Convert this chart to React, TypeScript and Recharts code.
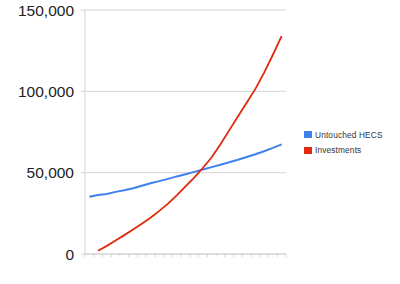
import React from 'react';
import { LineChart, Line, XAxis, YAxis, CartesianGrid } from 'recharts';

const years = [1, 2, 3, 4, 5, 6, 7, 8, 9, 10, 11, 12, 13, 14, 15, 16, 17, 18, 19, 20, 21, 22, 23];
const untouchedHecs = [35200, 36300, 36900, 38200, 39200, 40400, 42000, 43500, 44800, 46200, 47700, 49000, 50500, 51900, 53400, 54900, 56400, 57900, 59600, 61300, 63200, 65200, 67400];
const investments = [null, 2000, 5000, 8300, 11600, 15000, 18600, 22300, 26500, 31000, 36000, 41500, 47000, 53000, 59500, 67500, 76000, 84500, 93000, 101500, 111500, 122500, 134000];
const yTicks = [0, 50000, 100000, 150000];
const xBoundaries = [0.5, 1.5, 2.5, 3.5, 4.5, 5.5, 6.5, 7.5, 8.5, 9.5, 10.5, 11.5, 12.5, 13.5, 14.5, 15.5, 16.5, 17.5, 18.5, 19.5, 20.5, 21.5, 22.5, 23.5];
const seriesNames = ['Untouched HECS', 'Investments'];
const seriesColors = ['#3F80F0', '#DF2A0C'];

const data = years.map((y, i) => ({
  year: y,
  hecs: untouchedHecs[i],
  inv: investments[i],
}));

const FONT = '"Liberation Sans", Arial, sans-serif';
const GRID = '#d4d4d4';

export default function App() {
  return (
    <div style={{ position: 'absolute', left: 0, top: 0, width: 400, height: 284, background: '#fff' }}>
      <LineChart width={400} height={284} data={data} margin={{ top: 10, right: 114, bottom: 0, left: 0 }}>
        <CartesianGrid vertical={false} stroke={GRID} />
        <XAxis
          dataKey="year"
          type="number"
          domain={[0.5, 23.5]}
          ticks={xBoundaries}
          interval={0}
          tickFormatter={() => ''}
          tickSize={3}
          height={30}
          axisLine={{ stroke: GRID }}
          tickLine={{ stroke: GRID }}
        />
        <YAxis
          domain={[0, 150000]}
          ticks={yTicks}
          width={85}
          tickSize={4}
          tickMargin={7}
          interval={0}
          axisLine={{ stroke: GRID }}
          tickLine={{ stroke: GRID }}
          tick={{ fill: '#222', fontSize: 15.5, fontFamily: FONT }}
          tickFormatter={(v: number) => v.toLocaleString('en-US')}
        />
        <YAxis
          yAxisId="right"
          orientation="right"
          width={0}
          domain={[0, 1]}
          tick={false}
          tickLine={false}
          axisLine={{ stroke: GRID }}
        />
        <Line
          type="linear"
          dataKey="hecs"
          name={seriesNames[0]}
          stroke={seriesColors[0]}
          strokeWidth={2}
          dot={false}
          isAnimationActive={false}
        />
        <Line
          type="linear"
          dataKey="inv"
          name={seriesNames[1]}
          stroke={seriesColors[1]}
          strokeWidth={1.8}
          dot={false}
          isAnimationActive={false}
        />
      </LineChart>
      <div style={{ position: 'absolute', left: 304, top: 127, fontFamily: FONT, fontSize: 8.3, color: '#333', letterSpacing: 0.15 }}>
        {seriesNames.map((n, i) => (
          <div key={n} style={{ display: 'flex', alignItems: 'center', height: 15.5 }}>
            <span style={{ display: 'inline-block', width: 8, height: 7, background: seriesColors[i], marginRight: 3 }} />
            <span>{n}</span>
          </div>
        ))}
      </div>
    </div>
  );
}
